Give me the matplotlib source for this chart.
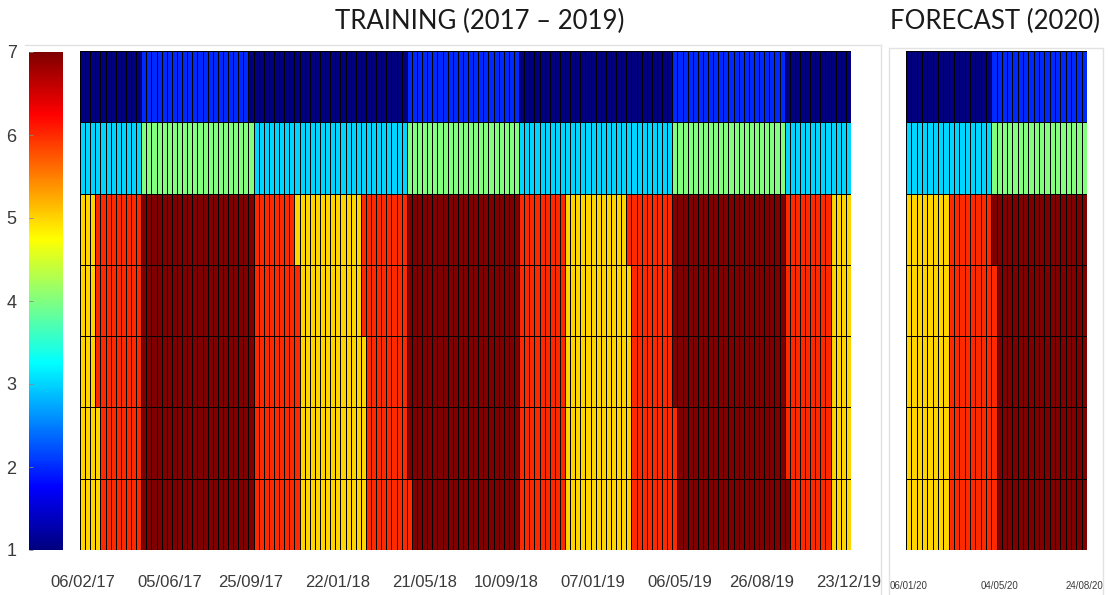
import numpy as np
import matplotlib.pyplot as plt
from matplotlib.colors import LinearSegmentedColormap, Normalize
from matplotlib.lines import Line2D
from matplotlib.patches import Rectangle

# MATLAB style jet colormap
jet_m = LinearSegmentedColormap("jet_matlab", {
    "red":   [(0, 0, 0), (3/8, 0, 0), (5/8, 1, 1), (7/8, 1, 1), (1, 0.5, 0.5)],
    "green": [(0, 0, 0), (1/8, 0, 0), (3/8, 1, 1), (5/8, 1, 1), (7/8, 0, 0), (1, 0, 0)],
    "blue":  [(0, 0.5, 0.5), (1/8, 1, 1), (3/8, 1, 1), (5/8, 0, 0), (1, 0, 0)],
}, N=256)

# Weekly values, read as runs of (value, number of weeks), top row first
train_rows = [
    [(1, 12), (2, 21), (1, 31), (2, 22), (1, 30), (2, 22), (1, 13)],
    [(3, 12), (4, 22), (3, 30), (4, 22), (3, 30), (4, 22), (3, 13)],
    [(5, 3), (6, 9), (7, 22), (6, 8), (5, 13), (6, 9), (7, 22), (6, 9), (5, 12), (6, 9), (7, 22), (6, 9), (5, 4)],
    [(5, 3), (6, 9), (7, 22), (6, 9), (5, 12), (6, 9), (7, 22), (6, 9), (5, 13), (6, 8), (7, 22), (6, 9), (5, 4)],
    [(5, 3), (6, 9), (7, 22), (6, 9), (5, 13), (6, 8), (7, 22), (6, 9), (5, 13), (6, 8), (7, 22), (6, 9), (5, 4)],
    [(5, 4), (6, 8), (7, 22), (6, 9), (5, 13), (6, 8), (7, 22), (6, 9), (5, 13), (6, 9), (7, 21), (6, 9), (5, 4)],
    [(5, 4), (6, 8), (7, 22), (6, 9), (5, 13), (6, 9), (7, 21), (6, 9), (5, 13), (6, 9), (7, 22), (6, 8), (5, 4)],
]
fore_rows = [
    [(1, 16), (2, 18)],
    [(3, 16), (4, 18)],
    [(5, 8), (6, 8), (7, 18)],
    [(5, 8), (6, 9), (7, 17)],
    [(5, 8), (6, 9), (7, 17)],
    [(5, 8), (6, 9), (7, 17)],
    [(5, 8), (6, 9), (7, 17)],
]

train_ticks = [0, 17, 33, 50, 67, 83, 100, 117, 133, 150]
train_labels = ["06/02/17", "05/06/17", "25/09/17", "22/01/18", "21/05/18",
                "10/09/18", "07/01/19", "06/05/19", "26/08/19", "23/12/19"]
fore_ticks = [0, 17, 33]
fore_labels = ["06/01/20", "04/05/20", "24/08/20"]


def expand(rows):
    grid = [np.concatenate([np.full(n, v) for v, n in r]) for r in rows]
    return np.array(grid[::-1], dtype=float)  # bottom row first


Z_train = expand(train_rows)
Z_fore = expand(fore_rows)

W, H = 1108, 595
fig = plt.figure(figsize=(W / 100, H / 100), dpi=100)


def px_axes(x0, y0, x1, y1):
    return fig.add_axes([x0 / W, 1 - y1 / H, (x1 - x0) / W, (y1 - y0) / H])


norm = Normalize(1, 7)
tick_color = "#3a3a3a"

ax_t = px_axes(80, 51, 851, 550)
ax_f = px_axes(906, 51, 1087, 550)
cax = px_axes(29, 52, 63, 550)

for ax, Z, ticks, labels, fs, pad in [(ax_t, Z_train, train_ticks, train_labels, 12, 18),
                                      (ax_f, Z_fore, fore_ticks, fore_labels, 7, 22)]:
    ncol = Z.shape[1]
    xe = np.arange(ncol + 1) - 0.5
    ye = np.linspace(1, 7, 8)
    mesh = ax.pcolormesh(xe, ye, Z, cmap=jet_m, norm=norm,
                         edgecolors="black", linewidth=0.5)
    ax.set_xlim(xe[0], xe[-1])
    ax.set_ylim(1, 7)
    ax.set_yticks([])
    ax.set_xticks(ticks)
    ax.set_xticklabels(labels, fontsize=fs, color=tick_color, family="Liberation Sans")
    ax.tick_params(axis="x", length=0, pad=pad)
    for s in ax.spines.values():
        s.set_visible(False)

cb = fig.colorbar(mesh, cax=cax, ticks=range(1, 8))
cb.outline.set_visible(False)
cax.yaxis.set_ticks_position("left")
cax.tick_params(axis="y", direction="in", length=3, width=0.6, color="#888888",
                labelsize=13, labelcolor=tick_color, pad=9)
for lab in cax.get_yticklabels():
    lab.set_family("Liberation Sans")

# light panel frames
frame_c = "#e2e2e2"
fig.add_artist(Line2D([25 / W, 881 / W], [1 - 45 / H, 1 - 45 / H], color=frame_c, lw=1))
fig.add_artist(Line2D([881 / W, 881 / W], [1 - 45 / H, 0], color=frame_c, lw=1))
fig.add_artist(Rectangle((889 / W, -0.01), (1103 - 889) / W, 1 - 48 / H + 0.01,
                         transform=fig.transFigure, fill=False, edgecolor=frame_c, lw=1))

fig.text(480 / W, 1 - 21 / H, "TRAINING (2017 \u2013 2019)", ha="center", va="center",
         fontsize=18.5, family="Lato", color="#1a1a1a")
fig.text(995 / W, 1 - 21 / H, "FORECAST (2020)", ha="center", va="center",
         fontsize=18.5, family="Lato", color="#1a1a1a")

fig.savefig("out.png", dpi=100)
